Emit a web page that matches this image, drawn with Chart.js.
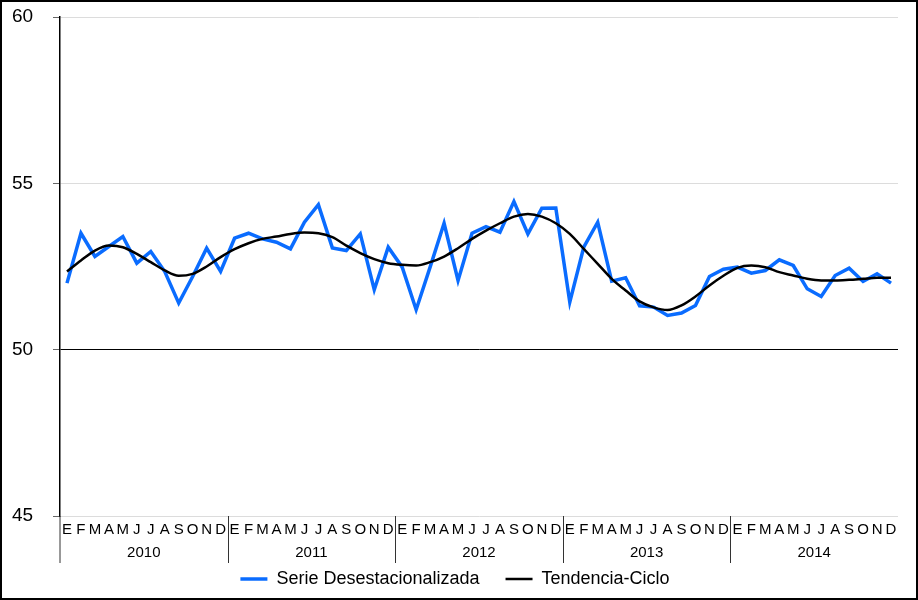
<!DOCTYPE html>
<html>
<head>
<meta charset="utf-8">
<script src="https://cdn.jsdelivr.net/npm/chart.js@4"></script>
<style>
  html, body { margin: 0; padding: 0; background: #fff; }
  #wrap { width: 918px; height: 600px; box-sizing: border-box; border: 2px solid #000; }
  #chart { display: block; }
</style>
</head>
<body>
<div id="wrap"><canvas id="chart" width="914" height="596"></canvas></div>
<script>
// ── datos ──
const monthLetters = ['E', 'F', 'M', 'A', 'M', 'J', 'J', 'A', 'S', 'O', 'N', 'D'];
const years = ['2010', '2011', '2012', '2013', '2014'];

const serieDesest = [
  52.0, 53.5, 52.8, 53.1, 53.4, 52.6, 52.95, 52.35, 51.4, 52.2, 53.05, 52.35,
  53.35, 53.5, 53.33, 53.23, 53.03, 53.83, 54.36, 53.06, 52.98, 53.48, 51.8, 53.08,
  52.48, 51.2, 52.48, 53.8, 52.08, 53.5, 53.7, 53.53, 54.45, 53.48, 54.25, 54.26,
  51.43, 53.08, 53.83, 52.06, 52.16, 51.32, 51.28, 51.03, 51.1, 51.33, 52.2, 52.42,
  52.48, 52.3, 52.38, 52.7, 52.53, 51.83, 51.6, 52.23, 52.45, 52.05, 52.28, 52.0
];
const tendenciaCiclo = [
  52.35, 52.68, 52.98, 53.13, 53.08, 52.88, 52.63, 52.38, 52.22, 52.28, 52.5, 52.78,
  53.02, 53.2, 53.33, 53.4, 53.48, 53.52, 53.5, 53.38, 53.13, 52.9, 52.72, 52.6,
  52.55, 52.53, 52.63, 52.8, 53.05, 53.33, 53.58, 53.8, 54.0, 54.08, 54.0, 53.8,
  53.48, 53.03, 52.58, 52.13, 51.78, 51.45, 51.27, 51.19, 51.33, 51.6, 51.93, 52.22,
  52.46, 52.53, 52.48, 52.33, 52.23, 52.13, 52.08, 52.08, 52.1, 52.13, 52.16, 52.16
];

const yTicks = [45, 50, 55, 60];

const labels = [];
years.forEach(y => monthLetters.forEach(m => labels.push(m + ' ' + y)));

const FONT = "'Liberation Sans', Arial, sans-serif";

// ── eje de años: separadores y etiquetas ──
const yearAxisPlugin = {
  id: 'yearAxis',
  afterDraw(chart) {
    const ctx = chart.ctx;
    const xs = chart.scales.x;
    const area = chart.chartArea;
    const step = xs.getPixelForValue(1) - xs.getPixelForValue(0);
    ctx.save();
    ctx.strokeStyle = '#333';
    ctx.lineWidth = 1;
    years.forEach((y, i) => {
      const left = xs.getPixelForValue(i * 12) - step / 2;
      const right = xs.getPixelForValue(i * 12 + 11) + step / 2;
      const lx = i === 0 ? area.left : Math.round(left) + 0.5;
      ctx.beginPath();
      ctx.moveTo(lx, area.bottom);
      ctx.lineTo(lx, area.bottom + 47);
      ctx.stroke();
      ctx.fillStyle = '#000';
      ctx.font = '15px ' + FONT;
      ctx.textAlign = 'center';
      ctx.textBaseline = 'middle';
      ctx.fillText(y, (left + right) / 2, area.bottom + 37);
    });
    ctx.restore();
  }
};

new Chart(document.getElementById('chart'), {
  type: 'line',
  data: {
    labels,
    datasets: [
      {
        label: 'Serie Desestacionalizada',
        data: serieDesest,
        borderColor: '#0a6cff', backgroundColor: '#0a6cff',
        borderWidth: 3.5, pointRadius: 0, tension: 0, order: 1,
        pointStyle: 'line',
      },
      {
        label: 'Tendencia-Ciclo',
        data: tendenciaCiclo,
        borderColor: '#000', backgroundColor: '#000',
        borderWidth: 2.5, pointRadius: 0, cubicInterpolationMode: 'monotone', order: 0,
        pointStyle: 'line',
      },
    ],
  },
  plugins: [yearAxisPlugin],
  options: {
    responsive: false,
    animation: false,
    layout: { padding: { top: 15, right: 18, bottom: 0, left: 10 } },
    plugins: {
      tooltip: { enabled: false },
      legend: {
        position: 'bottom',
        labels: {
          usePointStyle: true, pointStyleWidth: 27,
          color: '#000', padding: 11,
          font: { family: FONT, size: 18 },
          sort: (a, b) => a.datasetIndex - b.datasetIndex,
          generateLabels: chart => {
            const items = Chart.defaults.plugins.legend.labels.generateLabels(chart);
            items.forEach(it => { if (it.datasetIndex === 0) it.text += '   '; });
            return items;
          },
        },
      },
    },
    scales: {
      x: {
        offset: true,
        grid: { display: false, drawTicks: false },
        border: { display: false },
        ticks: {
          autoSkip: false, maxRotation: 0, padding: 5, color: '#000',
          font: { family: FONT, size: 15 },
          callback: (v, i) => monthLetters[i % 12],
        },
        afterFit: s => { s.height = 43; },
      },
      y: {
        min: 45, max: 60,
        afterBuildTicks: s => { s.ticks = yTicks.map(v => ({ value: v })); },
        grid: {
          color: c => (c.tick && c.tick.value === 50 ? '#000' : '#dcdcdc'),
          lineWidth: 1, tickLength: 7, tickColor: '#666',
        },
        border: { display: true, color: '#000', width: 1.5 },
        ticks: {
          padding: 2, color: '#000', crossAlign: 'far',
          font: { family: FONT, size: 19 },
        },
        afterFit: s => { s.width = 48; },
      },
    },
  },
});
</script>
</body>
</html>
